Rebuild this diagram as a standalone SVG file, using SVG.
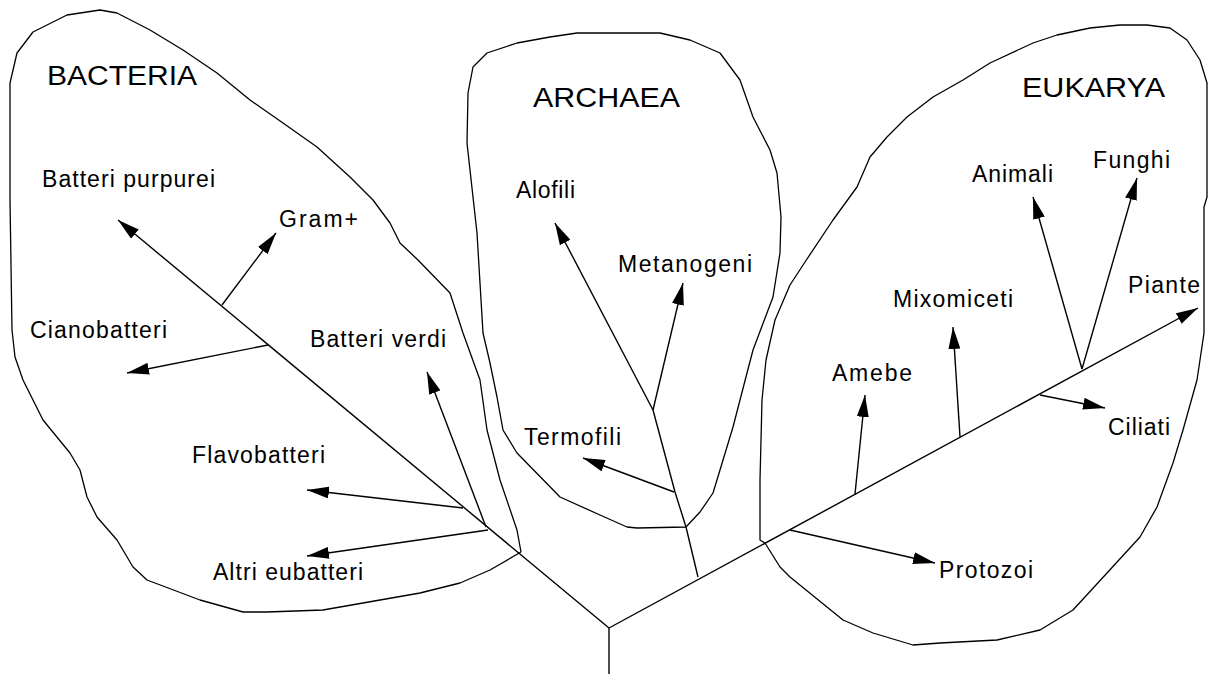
<svg xmlns="http://www.w3.org/2000/svg" width="1208" height="674" viewBox="0 0 1208 674">
<style>
.b{fill:none;stroke:#000;stroke-width:1.3;stroke-linejoin:round}
.c{fill:none;stroke:#000;stroke-width:1.4}
.a{marker-end:url(#ah)}
text{font-family:"Liberation Sans",Arial,sans-serif;fill:#000}
.t{font-size:23px}
.h{font-size:27px}
</style>
<defs>
<marker id="ah" viewBox="0 0 22 12" refX="22" refY="6" markerWidth="22" markerHeight="12" markerUnits="userSpaceOnUse" orient="auto">
<path d="M0,0 L22,6 L0,12 z" fill="#000"/>
</marker>
</defs>
<rect width="1208" height="674" fill="#fff"/>
<g id="bacteria">
<polyline class="b" points="521,552 517,530 500,480 487,430 480,380 463,333 450,293 418,260 400,243 390,223 373,200 350,177 317,147 283,123 250,100 217,73 183,50 150,30 117,13 100,10 67,15 33,32 17,53 10,83 10,200 12,330 15,357 23,380 43,420 70,453 80,470 87,497 97,517 117,540 133,567 147,580 200,600 243,612 267,612 323,610 420,593 460,583 490,570 521,552"/>
<text class="h" x="47" y="85" textLength="150" lengthAdjust="spacingAndGlyphs">BACTERIA</text>
</g>
<g id="archaea">
<polyline class="b" points="686,527 700,512 713,493 720,470 733,427 747,373 753,350 773,297 780,253 781,217 777,173 770,150 753,117 740,80 720,53 690,40 660,33 577,33 550,37 517,43 487,53 473,67 468,93 467,143 477,233 483,333 490,363 497,397 503,430 517,453 560,497 600,515 627,527 637,528 686,527"/>
<text class="h" x="533" y="107" textLength="147" lengthAdjust="spacingAndGlyphs">ARCHAEA</text>
</g>
<g id="eukarya">
<polyline class="b" points="765,543 760,540 760,480 762,400 766,360 775,320 790,285 805,262 833,220 857,187 870,157 887,137 907,117 933,97 963,80 990,63 1033,43 1057,35 1090,28 1120,25 1147,25 1170,28 1187,40 1200,60 1207,83 1207,197 1204,207 1204,333 1197,380 1183,430 1173,463 1157,507 1140,537 1107,573 1073,610 1040,630 997,640 940,643 913,645 873,633 843,620 790,577 780,567 765,543"/>
<text class="h" x="1022" y="97" textLength="143" lengthAdjust="spacingAndGlyphs">EUKARYA</text>
</g>
<g id="connectors">
<line class="c" x1="609" y1="674" x2="609" y2="628"/>
<line class="c a" x1="609" y1="628" x2="118" y2="220"/>
<line class="c a" x1="609" y1="628" x2="1198" y2="308"/>
<line class="c a" x1="222" y1="305" x2="276" y2="233"/>
<line class="c a" x1="268" y1="345" x2="127" y2="373"/>
<line class="c a" x1="486" y1="527" x2="427" y2="372"/>
<line class="c a" x1="463" y1="508" x2="307" y2="490"/>
<line class="c a" x1="488" y1="530" x2="307" y2="556"/>
<polyline class="c" points="698,577 686,527 675,492 653,410"/>
<line class="c a" x1="653" y1="410" x2="555" y2="223"/>
<line class="c a" x1="653" y1="410" x2="683" y2="283"/>
<line class="c a" x1="674" y1="492" x2="583" y2="458"/>
<line class="c a" x1="790" y1="530" x2="935" y2="563"/>
<line class="c a" x1="855" y1="494" x2="865" y2="395"/>
<line class="c a" x1="960" y1="437" x2="953" y2="327"/>
<line class="c a" x1="1040" y1="395" x2="1105" y2="408"/>
<line class="c a" x1="1082" y1="369" x2="1033" y2="197"/>
<line class="c a" x1="1082" y1="369" x2="1137" y2="178"/>
</g>
<g id="batteri-purpurei"><text class="t" x="42" y="187" textLength="173" lengthAdjust="spacing">Batteri purpurei</text></g>
<g id="gram"><text class="t" x="279" y="227" textLength="79" lengthAdjust="spacing">Gram+</text></g>
<g id="cianobatteri"><text class="t" x="30" y="338" textLength="137" lengthAdjust="spacing">Cianobatteri</text></g>
<g id="batteri-verdi"><text class="t" x="310" y="347" textLength="136" lengthAdjust="spacing">Batteri verdi</text></g>
<g id="flavobatteri"><text class="t" x="192" y="463" textLength="133" lengthAdjust="spacing">Flavobatteri</text></g>
<g id="altri-eubatteri"><text class="t" x="213" y="580" textLength="150" lengthAdjust="spacing">Altri eubatteri</text></g>
<g id="alofili"><text class="t" x="516" y="198" textLength="59" lengthAdjust="spacing">Alofili</text></g>
<g id="metanogeni"><text class="t" x="618" y="272" textLength="134" lengthAdjust="spacing">Metanogeni</text></g>
<g id="termofili"><text class="t" x="524" y="445" textLength="97" lengthAdjust="spacing">Termofili</text></g>
<g id="animali"><text class="t" x="972" y="182" textLength="81" lengthAdjust="spacing">Animali</text></g>
<g id="funghi"><text class="t" x="1093" y="168" textLength="77" lengthAdjust="spacing">Funghi</text></g>
<g id="piante"><text class="t" x="1128" y="293" textLength="72" lengthAdjust="spacing">Piante</text></g>
<g id="mixomiceti"><text class="t" x="893" y="307" textLength="120" lengthAdjust="spacing">Mixomiceti</text></g>
<g id="amebe"><text class="t" x="832" y="381" textLength="80" lengthAdjust="spacing">Amebe</text></g>
<g id="ciliati"><text class="t" x="1108" y="435" textLength="62" lengthAdjust="spacing">Ciliati</text></g>
<g id="protozoi"><text class="t" x="939" y="578" textLength="94" lengthAdjust="spacing">Protozoi</text></g>
</svg>
